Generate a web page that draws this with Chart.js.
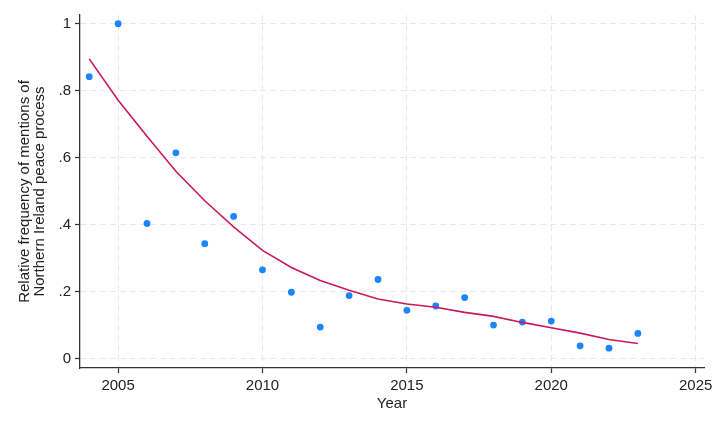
<!DOCTYPE html>
<html>
<head>
<meta charset="utf-8">
<script src="https://cdn.jsdelivr.net/npm/chart.js@4"></script>
<style>
  html, body { margin: 0; padding: 0; background: #fff; }
  #wrap { width: 720px; height: 432px; }
</style>
</head>
<body>
<div id="wrap"><canvas id="chart" width="720" height="432"></canvas></div>
<script>
// values
const years = [2004, 2005, 2006, 2007, 2008, 2009, 2010, 2011, 2012, 2013,
               2014, 2015, 2016, 2017, 2018, 2019, 2020, 2021, 2022, 2023];
const mentions = [0.842, 1.0, 0.404, 0.615, 0.344, 0.425, 0.266, 0.199, 0.095, 0.189,
                  0.237, 0.145, 0.158, 0.183, 0.101, 0.110, 0.113, 0.039, 0.032, 0.076];
const smoothed = [0.895, 0.772, 0.664, 0.560, 0.472, 0.394, 0.324, 0.273, 0.234, 0.205,
                  0.179, 0.164, 0.154, 0.139, 0.127, 0.109, 0.093, 0.077, 0.058, 0.046];
const xTicks = [2005, 2010, 2015, 2020, 2025];
const yTicks = [0, 0.2, 0.4, 0.6, 0.8, 1];
const yTickLabels = ['0', '.2', '.4', '.6', '.8', '1'];

const font = { family: '"Liberation Sans", Arial, sans-serif', size: 15 };
const textColor = '#222';
const gridColor = '#e8e8e8';

function axisStyle() {
    return {
        border: { display: true, color: '#333', width: 1.3, dash: [6, 4] },
        grid: {
            color: gridColor,
            lineWidth: 1,
            drawTicks: true,
            tickLength: 5,
            tickColor: '#333',
            tickWidth: 1.2,
            tickBorderDash: []
        }
    };
}

const ctx = document.getElementById('chart').getContext('2d');

new Chart(ctx, {
    type: 'scatter',
    data: {
        datasets: [
            {
                type: 'line',
                label: 'lowess',
                data: years.map((yr, i) => ({ x: yr, y: smoothed[i] })),
                borderColor: '#c9195c',
                borderWidth: 1.6,
                pointRadius: 0,
                tension: 0,
                fill: false,
                order: 0
            },
            {
                label: 'mentions',
                data: years.map((yr, i) => ({ x: yr, y: mentions[i] })),
                backgroundColor: '#1a85ff',
                borderColor: '#1a85ff',
                borderWidth: 0,
                pointRadius: 3.4,
                order: 1
            }
        ]
    },
    options: {
        responsive: false,
        animation: false,
        layout: { padding: { top: 15, right: 16, bottom: 0, left: 0 } },
        plugins: {
            legend: { display: false },
            tooltip: { enabled: false }
        },
        scales: {
            x: {
                type: 'linear',
                min: 2003.68,
                max: 2025.29,
                ...axisStyle(),
                afterBuildTicks: scale => { scale.ticks = xTicks.map(v => ({ value: v })); },
                afterFit: scale => { scale.height = 64; },
                ticks: { font: font, color: textColor, padding: 4, maxRotation: 0,
                         callback: v => String(v) },
                title: { display: true, text: 'Year', font: font, color: textColor,
                         padding: { top: 2, bottom: 19 } }
            },
            y: {
                type: 'linear',
                min: -0.027,
                max: 1.026,
                ...axisStyle(),
                afterBuildTicks: scale => { scale.ticks = yTicks.map(v => ({ value: v })); },
                afterFit: scale => { scale.width = 80; },
                ticks: { font: font, color: textColor, padding: 4,
                         callback: v => yTickLabels[yTicks.indexOf(v)] ?? '' },
                title: { display: true,
                         text: ['Relative frequency of mentions of', 'Northern Ireland peace process'],
                         font: { ...font, lineHeight: 0.95 }, color: textColor,
                         padding: { top: 18, bottom: 0 } }
            }
        }
    }
});
</script>
</body>
</html>
